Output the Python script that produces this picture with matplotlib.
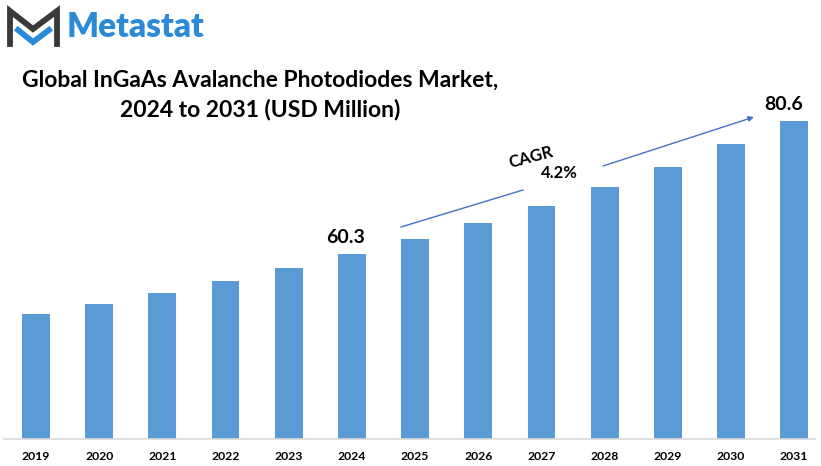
import matplotlib
matplotlib.use("Agg")
import matplotlib.pyplot as plt
from matplotlib.lines import Line2D

years = ["2019", "2020", "2021", "2022", "2023", "2024", "2025",
         "2026", "2027", "2028", "2029", "2030", "2031"]
values = [51.2, 52.7, 54.4, 56.2, 58.2, 60.3, 62.6, 65.1, 67.7, 70.6, 73.6, 77.1, 80.6]
start_label = "60.3"
end_label = "80.6"
cagr_text = "CAGR"
cagr_value = "4.2%"
title_lines = ["Global InGaAs Avalanche Photodiodes Market,", "2024 to 2031 (USD Million)"]

FONT = "Lato"
W, H = 821, 466
fig = plt.figure(figsize=(W / 100, H / 100), dpi=100)

def fx(px):
    return px / W

def fy(py):
    return 1 - py / H

# axes: px 4..815 horizontally, baseline at 439, top at 100
ax = fig.add_axes([fx(4), fy(439), fx(815) - fx(4), fy(100) - fy(439)])
x = list(range(len(years)))
ax.bar(x, values, width=0.44, color="#5b9bd5", zorder=2)
ax.set_xlim(-0.507, 12.33)
ybot = 32.1
ax.set_ylim(ybot, ybot + 339 * 0.1526)
for s in ["top", "right", "left"]:
    ax.spines[s].set_visible(False)
ax.spines["bottom"].set_color("#d9d9d9")
ax.spines["bottom"].set_linewidth(1.2)
ax.set_yticks([])
ax.set_xticks(x)
ax.set_xticklabels(years, fontfamily=FONT, fontweight="bold", fontsize=8.8)
ax.tick_params(axis="x", length=0, pad=9)

# value labels
ax.text(5 - 0.1, values[5] + 1.3, start_label, ha="center", va="bottom",
        fontfamily=FONT, fontweight="bold", fontsize=14)
ax.text(12 - 0.16, values[12] + 1.3, end_label, ha="center", va="bottom",
        fontfamily=FONT, fontweight="bold", fontsize=14)

# CAGR arrows (figure pixel coords)
fig.add_artist(Line2D([fx(401), fx(523)], [fy(227), fy(190)], color="#4472c4", lw=1.0))
ax.annotate("", xy=(fx(754), fy(117)), xytext=(fx(603), fy(166)),
            xycoords="figure fraction", textcoords="figure fraction",
            arrowprops=dict(arrowstyle="-|>", color="#4472c4", lw=1.0,
                            mutation_scale=8, shrinkA=0, shrinkB=0))
fig.text(fx(531), fy(157), cagr_text, rotation=15, ha="center", va="center",
         fontfamily=FONT, fontweight="bold", fontsize=12)
fig.text(fx(559), fy(173), cagr_value, ha="center", va="center",
         fontfamily=FONT, fontweight="bold", fontsize=12)

# title
fig.text(fx(260), fy(80), title_lines[0], ha="center", va="center",
         fontfamily=FONT, fontweight="bold", fontsize=16.5)
fig.text(fx(260), fy(110), title_lines[1], ha="center", va="center",
         fontfamily=FONT, fontweight="bold", fontsize=16.5)

# logo
dark = "#3a3a3a"
blue = "#2a8ad8"
fig.add_artist(Line2D([fx(10), fx(10), fx(33), fx(57), fx(57)],
                      [fy(44), fy(11), fy(29), fy(11), fy(44)],
                      color=dark, lw=4.2, solid_joinstyle="miter"))
fig.add_artist(Line2D([fx(18), fx(33), fx(49)],
                      [fy(30), fy(42), fy(30)],
                      color=blue, lw=4.2, solid_joinstyle="miter"))
fig.text(fx(67), fy(27), "Metastat", ha="left", va="center", color=blue,
         fontfamily=FONT, fontweight="heavy", fontsize=24)

fig.savefig("out.png", dpi=100, facecolor="white")
